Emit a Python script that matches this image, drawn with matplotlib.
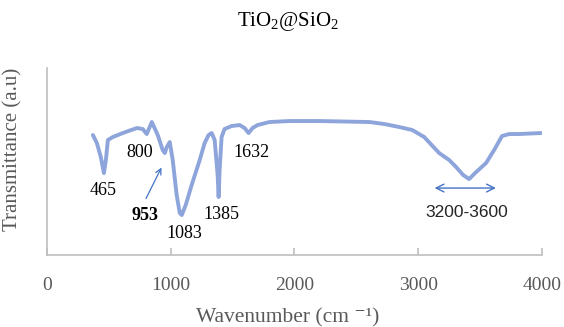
import matplotlib
matplotlib.use("Agg")
import matplotlib.pyplot as plt

plt.rcParams['font.family'] = ['Liberation Serif', 'DejaVu Serif']
plt.rcParams['mathtext.fontset'] = 'custom'
plt.rcParams['mathtext.rm'] = 'Liberation Serif'
plt.rcParams['mathtext.it'] = 'Liberation Serif:italic'
plt.rcParams['mathtext.default'] = 'rm'

# ── Data (arbitrary transmittance units) ── #
wavenumber = [371, 403, 435, 460, 476, 492, 532, 613, 726, 774, 806, 847, 895,
              935, 952, 968, 992, 1016, 1048, 1073, 1089, 1121, 1169, 1234,
              1274, 1306, 1331, 1355, 1379, 1387, 1395, 1411, 1435, 1492, 1556,
              1597, 1629, 1661, 1702, 1798, 1960, 2202, 2605, 2726, 2847, 2952,
              3048, 3169, 3250, 3306, 3363, 3411, 3468, 3548, 3613, 3677, 3734,
              3815, 3992]
transmittance = [120, 112, 98, 82, 95, 115, 118, 122, 127, 126, 121, 133, 120,
                 105, 102, 108, 113, 95, 60, 42, 40, 50, 70, 95,
                 112, 120, 122, 115, 80, 58, 85, 118, 126, 129, 130,
                 127, 122, 127, 130, 133, 134, 134, 133, 131, 128, 125,
                 118, 102, 95, 88, 80, 76, 83, 92, 105, 119, 121,
                 121, 122]

peak_labels = ["465", "800", "1083", "1385", "1632"]
peak_pos = [(452, 65), (750, 103), (1110, 22), (1410, 41), (1655, 103)]

line_color = '#8EA5DC'
arrow_color = '#4472C4'
axis_color = '#BFBFBF'
text_gray = '#595959'

fig = plt.figure(figsize=(5.64, 3.27), dpi=100)
ax = fig.add_axes([0.0833, 0.22, 0.8777, 0.572])

ax.plot(wavenumber, transmittance, color=line_color, linewidth=2.8,
        solid_joinstyle='round', solid_capstyle='round')

ax.set_xlim(0, 4000)
ax.set_ylim(0, 187)
ax.set_xticks([0, 1000, 2000, 3000, 4000])
ax.set_yticks([])

for side in ['top', 'right']:
    ax.spines[side].set_visible(False)
for side in ['left', 'bottom']:
    ax.spines[side].set_color(axis_color)
    ax.spines[side].set_linewidth(1.2)

ax.tick_params(axis='x', direction='in', length=5, color=axis_color, width=1.2,
               labelsize=14, labelcolor=text_gray, pad=16)

ax.set_xlabel("Wavenumber (cm ⁻¹)", fontsize=15.5, color=text_gray, va='top')
ax.xaxis.set_label_coords(0.487, -0.285)
ax.set_ylabel("Transmittance (a.u)", fontsize=15, color=text_gray)
ax.yaxis.set_label_coords(-0.05, 0.567)
ax.set_title("TiO$_2$@SiO$_2$", fontsize=15, pad=30, x=0.487)

# ── Peak annotations ── #
for lab, (px, py) in zip(peak_labels, peak_pos):
    ax.text(px, py, lab, fontsize=13, ha='center', va='center')

ax.text(790, 40, "953", fontsize=13, fontweight='bold', ha='center', va='center')
ax.annotate("", xy=(935, 90), xytext=(790, 54),
            arrowprops=dict(arrowstyle='->', color=arrow_color, lw=0.9))

ax.annotate("", xy=(3650, 67), xytext=(3110, 67),
            arrowprops=dict(arrowstyle='<->', color=arrow_color, lw=1.0,
                            mutation_scale=14))
ax.text(3390, 43, "3200-3600", fontsize=12.5, ha='center', va='center',
        family=['Liberation Sans', 'DejaVu Sans'], color='#262626')

fig.savefig("out.png", dpi=100)
